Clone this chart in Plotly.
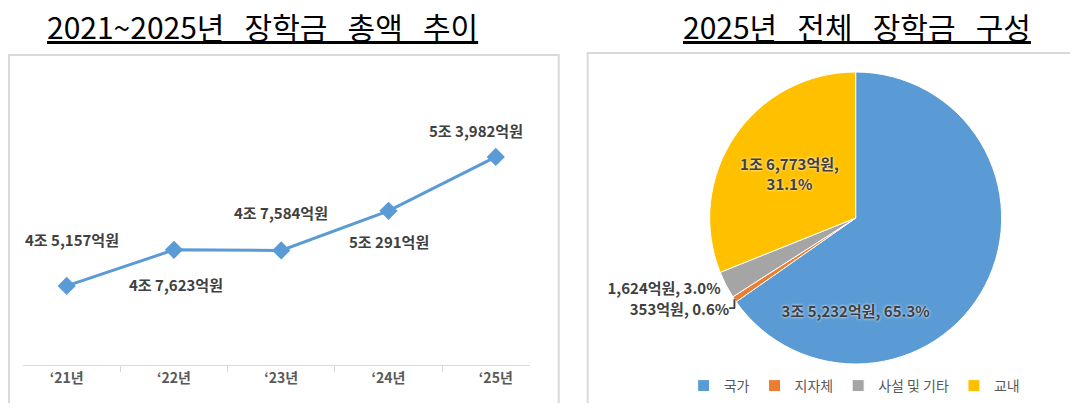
import plotly.graph_objects as go

# 연도별 장학금 총액 (억원)
years = ["‘21년", "‘22년", "‘23년", "‘24년", "‘25년"]
totals = [45157, 47623, 47584, 50291, 53982]
total_labels = ["4조 5,157억원", "4조 7,623억원", "4조 7,584억원", "5조 291억원", "5조 3,982억원"]

# 2025년 구성 (억원)
parts = ["국가", "지자체", "사설 및 기타", "교내"]
part_values = [35232, 353, 1624, 16773]
part_labels = ["3조 5,232억원, 65.3%", "353억원, 0.6%", "1,624억원, 3.0%", "1조 6,773억원,<br>31.1%"]

FONT = "Noto Sans CJK KR"
# 페이지 여백(8px) 고려
W, H = 1062, 395
OFF = 8
SX = 0.97  # 캡처 화면에서 가로로 줄어드는 비율 보정


def px(x):
    return min(1.0, (x / SX - OFF) / W)


def py(y):
    return (H - (y - OFF)) / H


fig = go.Figure()

fig.add_trace(go.Scatter(
    x=years, y=totals, mode="lines+markers",
    line=dict(color="#5B9BD5", width=3),
    marker=dict(symbol="diamond", size=14, color="#5B9BD5"),
    showlegend=False, hoverinfo="skip",
))

# 라벨 위치 조정 (엑셀 원본처럼 위/아래 번갈아)
shifts = [(5, 46), (2, -35), (0, 38), (0, -31), (-20, 26)]
for yr, v, t, (dx, dy) in zip(years, totals, total_labels, shifts):
    fig.add_annotation(x=yr, y=v, text="<b>" + t + "</b>", showarrow=False,
                       xshift=dx, yshift=dy,
                       font=dict(family=FONT, size=15, color="#404040"))

pie_c = px(830)
fig.add_trace(go.Pie(
    labels=parts, values=part_values, text=part_labels,
    texttemplate="<b>%{text}</b>", sort=False, direction="clockwise", rotation=0,
    textposition=["inside", "outside", "outside", "inside"],
    insidetextorientation="horizontal",
    marker=dict(colors=["#5B9BD5", "#ED7D31", "#A5A5A5", "#FFC000"],
                line=dict(color="white", width=1)),
    textfont=dict(family=FONT, size=15, color="#404040", shadow="0px 0px 3px white"),
    outsidetextfont=dict(family=FONT, size=15, color="#404040"),
    domain=dict(x=[pie_c - 0.16, min(1.0, pie_c + 0.16)], y=[py(364), py(72)]),
    hoverinfo="skip",
))

fig.update_layout(
    width=W, height=H, margin=dict(l=0, r=0, t=0, b=0),
    paper_bgcolor="white", plot_bgcolor="white",
    font=dict(family=FONT),
    xaxis=dict(domain=[px(22), px(514)], showgrid=False, showline=True, linecolor="#d9d9d9",
               ticks="outside", tickson="boundaries", ticklen=6, tickcolor="#d9d9d9",
               tickfont=dict(family=FONT, size=14, color="#595959"), fixedrange=True),
    yaxis=dict(domain=[py(365), py(142)], range=[39750, 55000], visible=False),
    legend=dict(orientation="h", x=px(829), xanchor="center", y=py(386), yanchor="middle",
                font=dict(family=FONT, size=14, color="#595959"), itemwidth=30),
)
fig.update_xaxes(tickprefix="<b>", ticksuffix="</b>")

# 제목 (단어 사이 넓은 간격)
gap = "\u00a0\u00a0\u00a0"
titles = [(gap.join(["2021~2025년", "장학금", "총액", "추이"]), 255),
          (gap.join(["2025년", "전체", "장학금", "구성"]), 831)]
for t, cx in titles:
    fig.add_annotation(x=px(cx), y=py(26), xref="paper", yref="paper", showarrow=False,
                       xanchor="center", yanchor="middle",
                       text="<u>" + t + "</u>", font=dict(family=FONT, size=30, color="black"))

# 패널 테두리
fig.add_shape(type="rect", xref="paper", yref="paper", x0=0.001, x1=px(542),
              y0=-0.05, y1=py(55), line=dict(color="#d9d9d9", width=2))
fig.add_shape(type="rect", xref="paper", yref="paper", x0=px(570), x1=1.05,
              y0=-0.05, y1=py(53), line=dict(color="#d9d9d9", width=2))

fig.write_html("out.html")
